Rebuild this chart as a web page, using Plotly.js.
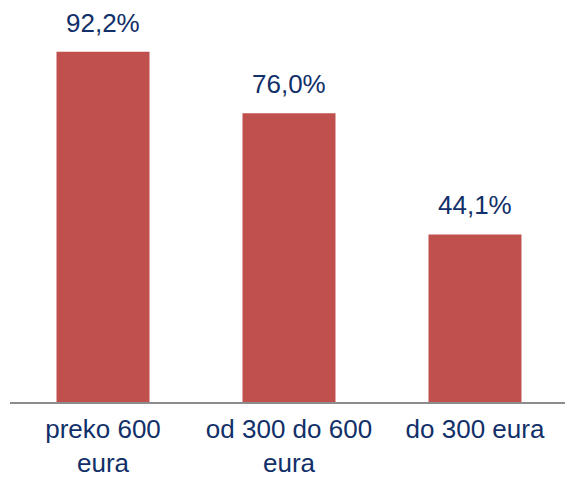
<!DOCTYPE html>
<html>
<head>
<meta charset="utf-8">
<script src="https://cdn.plot.ly/plotly-3.0.1.min.js"></script>
<style>html,body{margin:0;padding:0;background:#fff;}#chart{width:565px;height:481px;}</style>
</head>
<body>
<div id="chart"></div>
<script>
const categories = ["preko 600<br>eura", "od 300 do 600<br>eura", "do 300 eura"];
const values = [92.2, 76.0, 44.1];
const valueLabels = ["92,2%", "76,0%", "44,1%"];

const textColor = "#112F68";
const trace = {
  type: "bar",
  x: [0, 1, 2],
  y: values,
  marker: {color: "#C0504D"},
  hoverinfo: "none"
};
const annotations = values.map((v, i) => ({
  x: i, y: v, xref: "x", yref: "y",
  text: valueLabels[i], showarrow: false,
  yanchor: "bottom", yshift: 12,
  font: {family: "Liberation Sans, Arial, sans-serif", size: 26, color: textColor}
}));
const layout = {
  width: 565, height: 481,
  margin: {l: 10, r: 0, t: 3, b: 79},
  paper_bgcolor: "#fff", plot_bgcolor: "#fff",
  showlegend: false,
  bargap: 0.5,
  xaxis: {
    range: [-0.5, 2.484],
    tickmode: "array", tickvals: [0, 1, 2], ticktext: categories,
    tickfont: {family: "Liberation Sans, Arial, sans-serif", size: 26, color: textColor},
    ticklabelstandoff: 3,
    showline: true, linecolor: "#8C8C8C", linewidth: 2,
    showgrid: false, zeroline: false, ticks: "", fixedrange: true
  },
  yaxis: {
    range: [0, 105], visible: false, showgrid: false, zeroline: false, fixedrange: true
  },
  annotations: annotations
};
Plotly.newPlot("chart", [trace], layout, {staticPlot: true, displayModeBar: false});
</script>
</body>
</html>
